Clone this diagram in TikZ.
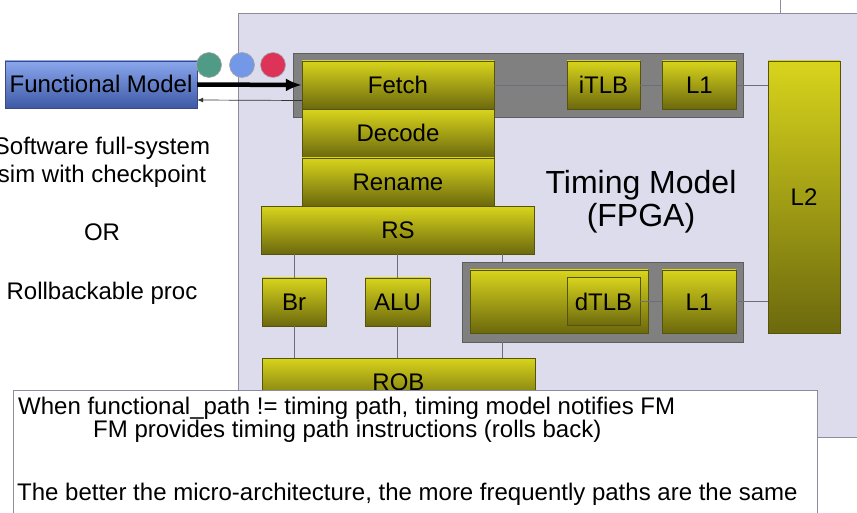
\documentclass[tikz,border=0pt]{standalone}
\usepackage{fontspec}
\setmainfont{Liberation Sans}
\usetikzlibrary{arrows.meta, positioning, calc}

\definecolor{stageTop}{HTML}{D8D41C}
\definecolor{stageBottom}{HTML}{6C690E}
\definecolor{stageEdge}{HTML}{55530C}
\definecolor{fmTop}{HTML}{8AA6EC}
\definecolor{fmBottom}{HTML}{3E5AA6}
\definecolor{fmEdge}{HTML}{3A4A80}
\definecolor{frameFill}{HTML}{808080}
\definecolor{frameEdge}{HTML}{5E5E5E}
\definecolor{areaFill}{HTML}{DCDCED}
\definecolor{areaEdge}{HTML}{8C8C9C}
\definecolor{wireGrey}{HTML}{6E6E78}
\definecolor{tokGreen}{HTML}{4F9B86}
\definecolor{tokBlue}{HTML}{7498E8}
\definecolor{tokRed}{HTML}{DD3358}

\newcommand{\stage}[3][]{
  \node(#2)[
    stage,
    #1
  ] {#3};
}
\tikzset{
  stage/.style = {
    draw=stageEdge,
    top color=stageTop,
    bottom color=stageBottom,
    font=\fontsize{24}{26}\selectfont,
    inner sep=0pt,
    text height=17pt,
    text depth=0pt,
    minimum height=48pt,
  },
  frame/.style = {
    draw=frameEdge,
    fill=frameFill,
    inner sep=0pt,
  },
  wire/.style = {
    draw=wireGrey,
    line width=0.8pt,
  },
  token/.style = {
    circle,
    draw=gray!70,
    line width=0.6pt,
    minimum size=25pt,
    inner sep=0pt,
  },
  label/.style = {
    font=\fontsize{24}{26}\selectfont,
    inner sep=0pt,
  },
  feed/.style = {
    -{Latex[length=16pt, width=13pt]},
    line width=4.5pt,
  },
  rollback/.style = {
    -{Latex[length=6pt, width=5pt]},
    line width=0.7pt,
    draw=black!80,
  },
}

\begin{document}
\begin{tikzpicture}[x=1pt, y=-1pt]

\useasboundingbox (0,0) rectangle (857,513);
\clip (0,0) rectangle (857,513);

% timing model area
\node(Timing Area)[draw=areaEdge, fill=areaFill, line width=1pt,
  minimum width=642pt, minimum height=424pt, anchor=north west] at (238,13) {};
\draw[draw=areaEdge, line width=1pt] (780,0) -- (Timing Area.north -| 780,0);

\node(Fetch Frame)[frame, minimum width=450pt, minimum height=64pt] at (518,85) {};
\node(Mem Frame)[frame, minimum width=281pt, minimum height=80pt] at (602.5,302) {};

\node(Timing Label)[label, font=\fontsize{32}{33}\selectfont, anchor=base]
  at (641,194) {Timing Model};
\node(FPGA Label)[label, font=\fontsize{32}{33}\selectfont, anchor=base]
  at (641,227) {(FPGA)};

% front end
\stage[minimum width=192pt, at={(398,85)}]{Fetch}{Fetch};
\stage[minimum width=192pt, below=0pt of Fetch]{Decode}{Decode};
\stage[minimum width=192pt, below=0pt of Decode]{Rename}{Rename};
\stage[minimum width=273pt, below=0pt of Rename]{RS}{RS};

% caches
\stage[minimum width=73pt, at={(603.5,85)}]{iTLB}{iTLB};
\stage[minimum width=74pt, right=22pt of iTLB]{L1 Inst}{L1};
\stage[minimum width=72pt, minimum height=272pt, at={(804,197)}]{L2}{L2};
\stage[minimum width=178pt, minimum height=63pt, at={(559,301.5)}]{Mem}{};
\stage[minimum width=73pt, at={(603.5,301.5)}]{dTLB}{dTLB};
\stage[minimum width=74pt, minimum height=63pt, at={(699,301.5)}]{L1 Data}{L1};

% execute
\stage[minimum width=64pt, at={(294,302)}]{Br}{Br};
\stage[minimum width=65pt, at={(397.5,302)}]{ALU}{ALU};
\stage[minimum width=273pt, at={(398.5,382)}]{ROB}{ROB};

\coordinate (Mem Tap) at (502,300);

\draw[wire] (Fetch.east) -- (iTLB.west);
\draw[wire] (iTLB) -- (L1 Inst);
\draw[wire] (L1 Inst) -- (L1 Inst -| L2.west);
\draw[wire] (dTLB) -- (L1 Data);
\draw[wire] (L1 Data) -- (L1 Data -| L2.west);
\draw[wire] (Br.north) -- (Br |- RS.south);
\draw[wire] (Br.south) -- (Br |- ROB.north);
\draw[wire] (ALU.north) -- (ALU |- RS.south);
\draw[wire] (ALU.south) -- (ALU |- ROB.north);
\draw[wire] (Mem Tap |- RS.south) -- (Mem Tap |- Mem Frame.north);
\draw[wire] (Mem Tap |- Mem Frame.south) -- (Mem Tap |- ROB.north);

% functional model side
\node(FM)[draw=fmEdge, top color=fmTop, bottom color=fmBottom,
  minimum width=192pt, minimum height=47pt, label, text height=17pt]
  at (101,84.5) {Functional Model};

\node(Green Token)[token, fill=tokGreen] at (209,65) {};
\node(Blue Token)[token, fill=tokBlue] at (242,65) {};
\node(Red Token)[token, fill=tokRed] at (273,65) {};

\draw[feed] (FM.east) -- (Fetch.west);
\draw[rollback] ([yshift=-15.5pt]Fetch.west) -- ([yshift=-15.5pt]FM.east);

\node(Software)[label, anchor=base] at (102,155) {Software full-system};
\node(Checkpoint)[label, anchor=base] at (102,183) {sim with checkpoint};
\node(Or)[label, anchor=base] at (102,241) {OR};
\node(Rollbackable)[label, anchor=base] at (102,299) {Rollbackable proc};

% notes
\node(Notes)[draw=areaEdge, fill=white, line width=1pt, anchor=north west,
  minimum width=804pt, minimum height=140pt] at (13,390) {};
\node(Note One)[label, anchor=base west] at (18,414)
  {When functional\_path != timing path, timing model notifies FM};
\node(Note Two)[label, anchor=base west] at (93,437)
  {FM provides timing path instructions (rolls back)};
\node(Note Three)[label, anchor=base west] at (17,500)
  {The better the micro-architecture, the more frequently paths are the same};

\end{tikzpicture}
\end{document}
